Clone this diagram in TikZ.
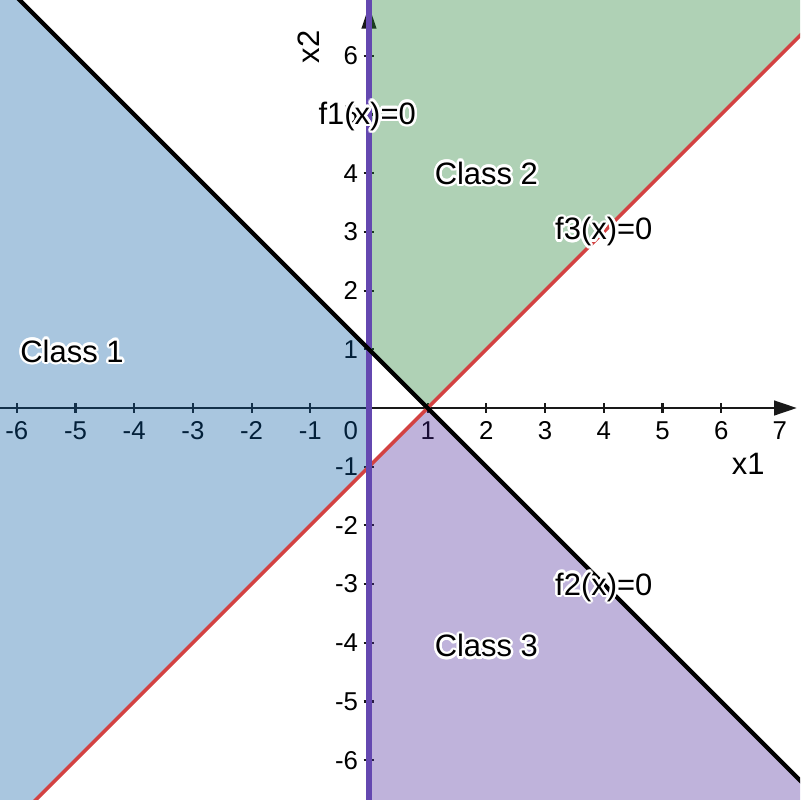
\documentclass[tikz,border=0pt]{standalone}
\usepackage{fontspec}
\setmainfont{Liberation Sans}
\usetikzlibrary{arrows.meta,calc}
\definecolor{blueC}{RGB}{9,92,166}
\definecolor{greenC}{RGB}{26,124,44}
\definecolor{purpleC}{RGB}{72,38,152}
\definecolor{redL}{RGB}{211,66,66}
\definecolor{purpleL}{RGB}{100,72,176}
\tikzset{
  region/.style={fill opacity=0.35, draw=none},
  axisline/.style={line width=1.3pt, black!90, -{Triangle[length=11pt,width=7pt]}},
  tickmark/.style={line width=1pt, black!90},
  ticklbl/.style={font=\fontsize{12.5}{14}\selectfont, inner sep=0pt},
  lbl/.style={font=\fontsize{15}{18}\selectfont, inner sep=0pt},
  blackline/.style={line width=2.1pt, black},
  redline/.style={line width=1.7pt, redL},
  purpline/.style={line width=2.6pt, purpleL},
}
\newcommand{\halotext}[3]{%
  \foreach \hA in {0,22.5,...,337.5} {\node[lbl,text=white] (#1-h\hA) at ($(#2)+(\hA:1.2pt)$) {#3};}
  \node[lbl] (#1) at (#2) {#3};}
\begin{document}
\begin{tikzpicture}
\useasboundingbox (-6.286,-6.678) rectangle (7.343,6.951);
\clip (-6.286,-6.678) rectangle (7.343,6.951);
\fill[white] (-6.286,-6.678) rectangle (7.343,6.951);
% axes
\coordinate (xs) at (-6.4,0);
\coordinate (xe) at (7.29,0);
\coordinate (ys) at (0,-6.8);
\coordinate (ye) at (0,6.85);
\draw[axisline] (xs) -- (xe);
\draw[axisline] (ys) -- (ye);
\foreach \k in {-6,...,7} {
  \coordinate (tx\k a) at (\k,-0.085);
  \coordinate (tx\k b) at (\k,0.085);
  \draw[tickmark] (tx\k a) -- (tx\k b);
}
\foreach \k in {-6,...,-1,1,2,...,6} {
  \coordinate (ty\k a) at (-0.09,\k);
  \coordinate (ty\k b) at (0.09,\k);
  \draw[tickmark] (ty\k a) -- (ty\k b);
  \node[ticklbl,anchor=east] (ly\k) at (-0.18,\k) {\k};
}
\foreach \k in {-6,...,-1,1,2,...,7} {
  \node[ticklbl] (lx\k) at (\k,-0.38) {\k};
}
\node[ticklbl,anchor=east] (l0) at (-0.18,-0.38) {0};
% regions
\coordinate (p01) at (0,1);
\coordinate (p10) at (1,0);
\coordinate (p0m1) at (0,-1);
\fill[region,blueC] (p01) -- (-9,10) -- (-9,-10) -- (p0m1) -- cycle;
\fill[region,greenC] (p01) -- (0,12) -- (12,12) -- (12,11) -- (p10) -- cycle;
\fill[region,purpleC] (p0m1) -- (p10) -- (12,-11) -- (12,-12) -- (0,-12) -- cycle;
% lines
\coordinate (rA) at (-9,-10);
\coordinate (rB) at (12,11);
\coordinate (pA) at (0,-12);
\coordinate (pB) at (0,12);
\coordinate (bA) at (-9,10);
\coordinate (bB) at (12,-11);
\draw[redline] (rA) -- (rB);
\draw[purpline] (pA) -- (pB);
\draw[blackline] (bA) -- (bB);
% labels
\coordinate (cf1) at (-0.03,4.97);
\coordinate (cf3) at (4,3.0);
\coordinate (cf2) at (4,-3.05);
\coordinate (cc1) at (-5.06,0.97);
\coordinate (cc2) at (2,4.0);
\coordinate (cc3) at (2,-4.05);
\halotext{f1}{cf1}{f1(x)=0}
\halotext{f3}{cf3}{f3(x)=0}
\halotext{f2}{cf2}{f2(x)=0}
\halotext{c1}{cc1}{Class 1}
\halotext{c2}{cc2}{Class 2}
\halotext{c3}{cc3}{Class 3}
\node[lbl] (xlab) at (6.46,-0.95) {x1};
\node[lbl,rotate=90] (ylab) at (-1.03,6.15) {x2};
\end{tikzpicture}
\end{document}
